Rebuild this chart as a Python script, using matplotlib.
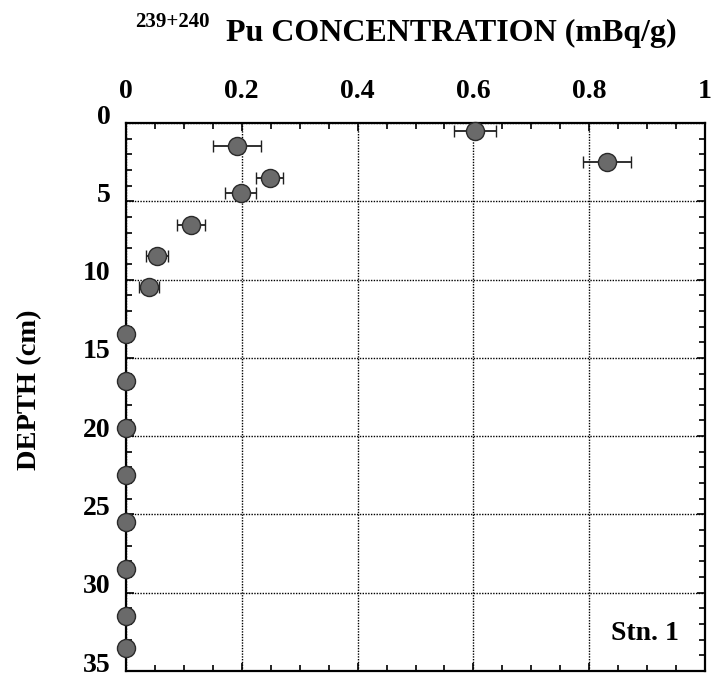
import matplotlib
matplotlib.use("Agg")
import matplotlib.pyplot as plt
from matplotlib.ticker import MultipleLocator
from matplotlib.transforms import ScaledTranslation

# Data
depth = [0.5, 1.5, 2.5, 3.5, 4.5, 6.5, 8.5, 10.5, 13.5, 16.5, 19.5, 22.5, 25.5, 28.5, 31.5, 33.5]
conc = [0.603, 0.192, 0.831, 0.248, 0.198, 0.112, 0.054, 0.040, 0, 0, 0, 0, 0, 0, 0, 0]
err = [0.036, 0.041, 0.042, 0.024, 0.027, 0.024, 0.019, 0.017, 0, 0, 0, 0, 0, 0, 0, 0]
xticks = [0, 0.2, 0.4, 0.6, 0.8, 1]
xticklabels = ["0", "0.2", "0.4", "0.6", "0.8", "1"]
yticks = [0, 5, 10, 15, 20, 25, 30, 35]

serif = ["Liberation Serif", "DejaVu Serif"]
plt.rcParams['font.family'] = serif

W, H = 713, 677
fig = plt.figure(figsize=(W / 100, H / 100), dpi=100)
left, right, top, bottom = 126, 705, 123, 671
ax = fig.add_axes([left / W, 1 - bottom / H, (right - left) / W, (bottom - top) / H])

ax.errorbar(conc, depth, xerr=err, fmt='o', ms=13, mfc='#6a6a6a', mec='#2a2a2a', mew=1.0,
            ecolor='#202020', elinewidth=1.3, capsize=4, capthick=1.5, zorder=5, clip_on=False)

ax.set_xlim(0, 1)
ax.set_ylim(35, 0)
ax.xaxis.tick_top()
ax.set_xticks(xticks)
ax.set_xticklabels(xticklabels)
ax.set_yticks(yticks)
ax.xaxis.set_minor_locator(MultipleLocator(0.05))
ax.yaxis.set_minor_locator(MultipleLocator(1))
ax.tick_params(which='both', direction='in', top=True, bottom=True, left=True, right=True,
               labelbottom=False, labeltop=True, width=1.2)
ax.tick_params(which='major', length=6)
ax.tick_params(which='minor', length=4)
ax.tick_params(axis='x', which='major', pad=14, labelsize=20)
ax.tick_params(axis='y', which='major', pad=11, labelsize=20)
for lab in ax.get_xticklabels() + ax.get_yticklabels():
    lab.set_fontweight('bold')
shift = ScaledTranslation(0, 9 / 100, fig.dpi_scale_trans)
for lab in ax.get_yticklabels():
    lab.set_transform(lab.get_transform() + shift)
for s in ax.spines.values():
    s.set_linewidth(1.6)
ax.grid(True, which='major', linestyle=(0, (1, 1)), color='black', linewidth=1.0)

fig.text(172 / W, 1 - 22 / H, "239+240", fontsize=15, fontweight='bold', ha='center', va='center')
fig.text(451 / W, 1 - 33 / H, "Pu CONCENTRATION (mBq/g)", fontsize=23, fontweight='bold',
         ha='center', va='center')
fig.text(30 / W, 1 - 390 / H, "DEPTH (cm)", fontsize=20.5, fontweight='bold', rotation=90,
         ha='center', va='center')
ax.text(0.955, 0.045, "Stn. 1", transform=ax.transAxes, fontsize=20, fontweight='bold',
        ha='right', va='bottom')

fig.savefig("out.png", dpi=100)
